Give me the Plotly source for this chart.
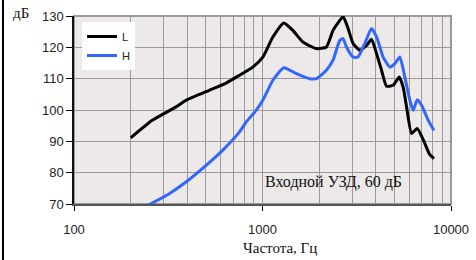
import plotly.graph_objects as go

# Data
freq_L = [200, 260, 348, 393, 522, 641, 755, 888, 1004, 1135, 1298, 1449, 1638, 1930,
          2182, 2366, 2550, 2680, 2845, 3025, 3282, 3565, 3787, 4027, 4280, 4550, 4935,
          5310, 5574, 5810, 6180, 6620, 7270, 7660, 8120]
level_L = [91.1, 96.7, 101.0, 103.1, 106.3, 108.6, 111.1, 113.7, 116.9, 123.3, 127.8,
           125.4, 121.7, 119.6, 120.1, 125.4, 128.3, 129.8, 126.0, 121.2, 119.1, 120.6,
           122.6, 118.0, 112.7, 107.6, 107.9, 110.5, 107.3, 101.0, 92.5, 94.1, 89.3,
           86.1, 84.5]

freq_H = [240, 320, 393, 502, 614, 755, 820, 925, 1004, 1135, 1298, 1511, 1778, 1930,
          2182, 2366, 2570, 2675, 2788, 3025, 3212, 3488, 3787, 4027, 4365, 4740, 5035,
          5354, 5690, 6050, 6300, 6620, 6980, 7570, 8120]
level_H = [69.2, 73.3, 77.0, 82.3, 87.1, 93.0, 96.2, 99.9, 103.1, 109.5, 113.5, 111.6,
           110.0, 110.0, 112.7, 115.9, 122.2, 122.8, 120.1, 116.9, 116.9, 121.2, 126.0,
           123.3, 116.9, 113.7, 114.8, 116.9, 110.5, 103.1, 99.9, 103.3, 101.5, 96.7, 93.5]

series_names = ["L", "H"]
x_major = [100, 1000, 10000]
x_minor = [200, 300, 400, 500, 600, 700, 800, 900,
           2000, 3000, 4000, 5000, 6000, 7000, 8000, 9000]
y_ticks = [70, 80, 90, 100, 110, 120, 130]

W, H = 476, 260
L_M, R_M, T_M, B_M = 74, 25, 16, 56
PW, PH = W - L_M - R_M, H - T_M - B_M


def px(x):
    return (x - L_M) / PW


def py(y):
    return 1 - (y - T_M) / PH


fig = go.Figure()
fig.add_trace(go.Scatter(x=freq_L, y=level_L, name=series_names[0], mode="lines",
                         line=dict(color="#000000", width=3, shape="spline", smoothing=0.5)))
fig.add_trace(go.Scatter(x=freq_H, y=level_H, name=series_names[1], mode="lines",
                         line=dict(color="#3366ff", width=3, shape="spline", smoothing=0.5)))

grid = "#999999"
fig.update_xaxes(type="log", range=[2, 4], tickvals=x_major, ticktext=[str(v) for v in x_major],
                 ticks="outside", ticklen=5, tickcolor="#000", showgrid=True, gridcolor=grid,
                 gridwidth=1, showline=True, linecolor="#555555", linewidth=1.5,
                 ticklabelstandoff=8,
                 minor=dict(tickvals=x_minor, showgrid=True, gridcolor=grid, gridwidth=1, ticks=""),
                 tickfont=dict(family="Liberation Sans", size=13, color="#222"), zeroline=False)
fig.update_yaxes(range=[70, 130], tickvals=y_ticks, ticks="outside", ticklen=6, tickcolor="#000",
                 showgrid=True, gridcolor=grid, gridwidth=1, showline=True, linecolor="#111",
                 linewidth=1.5, tickfont=dict(family="Liberation Sans", size=13, color="#222"),
                 zeroline=False)

fig.add_shape(type="rect", xref="x domain", yref="y domain", x0=0, x1=1, y0=0, y1=1,
              line=dict(color="#9a9a9a", width=2), layer="below")
fig.add_shape(type="line", xref="paper", yref="paper", x0=px(3), x1=px(3), y0=py(0), y1=py(260),
              line=dict(color="#000", width=2))

for txt, cx, cy, size in [("Входной УЗД, 60 дБ", 333, 182, 16),
                          ("дБ", 21, 13, 15),
                          ("Частота, Гц", 280, 248, 15)]:
    fig.add_annotation(xref="paper", yref="paper", x=px(cx), y=py(cy), text=txt,
                       xanchor="center", yanchor="middle", showarrow=False,
                       font=dict(family="Liberation Serif", size=size, color="#111"))

fig.update_layout(width=W, height=H, margin=dict(l=L_M, r=R_M, t=T_M, b=B_M, autoexpand=False),
                  paper_bgcolor="#ffffff", plot_bgcolor="#ece9e8", showlegend=True,
                  legend=dict(x=px(82), y=py(22), xanchor="left", yanchor="top",
                              bgcolor="#ffffff", borderwidth=0, entrywidth=60,
                              font=dict(family="Liberation Sans", size=11, color="#222"),
                              tracegroupgap=0))

fig.write_html("out.html", config={"displayModeBar": False},
               post_script="document.body.style.margin='0';")
